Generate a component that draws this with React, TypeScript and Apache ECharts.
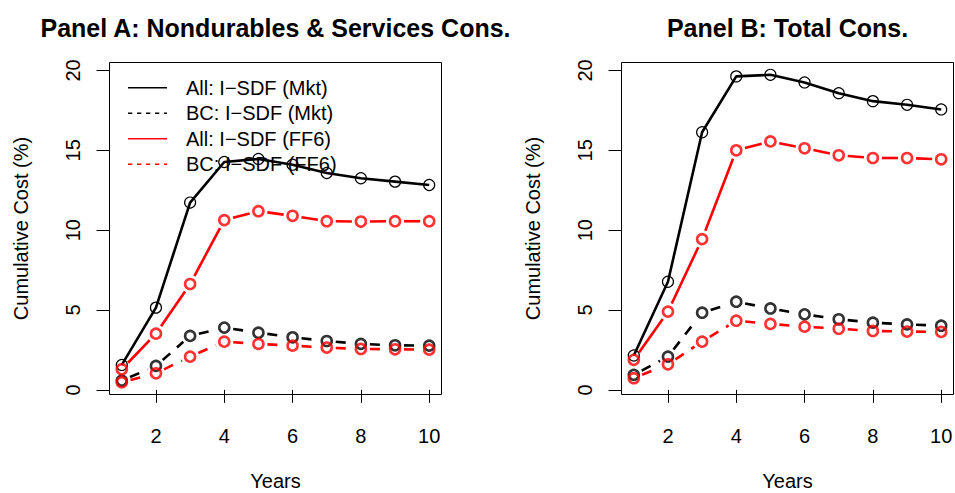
import React, { useEffect, useRef } from "react";
import * as echarts from "echarts";

// Horizon (years) and axis ticks
const years = [1, 2, 3, 4, 5, 6, 7, 8, 9, 10];
const xTicks = [2, 4, 6, 8, 10];
const yTicks = [0, 5, 10, 15, 20];

const panelTitles = ["Panel A: Nondurables & Services Cons.", "Panel B: Total Cons."];
const seriesNames = [
  "All: I\u2212SDF (Mkt)",
  "BC: I\u2212SDF (Mkt)",
  "All: I\u2212SDF (FF6)",
  "BC: I\u2212SDF (FF6)",
];

// Panel A: nondurables & services consumption, cumulative cost (%)
const ndsAllMkt = [1.56, 5.15, 11.73, 14.27, 14.46, 14.1, 13.58, 13.25, 13.04, 12.83];
const ndsBcMkt = [0.58, 1.5, 3.38, 3.9, 3.58, 3.29, 3.06, 2.88, 2.79, 2.77];
const ndsAllFF6 = [1.29, 3.52, 6.63, 10.63, 11.19, 10.9, 10.56, 10.54, 10.56, 10.56];
const ndsBcFF6 = [0.48, 1.04, 2.08, 3.02, 2.88, 2.77, 2.65, 2.56, 2.54, 2.52];

// Panel B: total consumption, cumulative cost (%)
const totAllMkt = [2.15, 6.77, 16.13, 19.63, 19.73, 19.25, 18.58, 18.08, 17.85, 17.56];
const totBcMkt = [0.94, 2.08, 4.83, 5.52, 5.1, 4.73, 4.42, 4.21, 4.1, 4.02];
const totAllFF6 = [1.88, 4.9, 9.44, 15.0, 15.56, 15.13, 14.69, 14.52, 14.52, 14.44];
const totBcFF6 = [0.73, 1.6, 3.02, 4.33, 4.13, 3.96, 3.83, 3.69, 3.65, 3.63];

const panelData = [
  [ndsAllMkt, ndsBcMkt, ndsAllFF6, ndsBcFF6],
  [totAllMkt, totBcMkt, totAllFF6, totBcFF6],
];

const FONT = "'Liberation Sans', Arial, Helvetica, sans-serif";
const RED = "#ff0000";
const BLACK = "#000000";
const DASH = [10, 9];

// Per-series drawing style: "o" = line through points, "b" = line broken at points
const seriesStyles = [
  { color: BLACK, dash: null as number[] | null, kind: "o", legendDash: null as number[] | null },
  { color: BLACK, dash: DASH, kind: "b", legendDash: [4.3, 4.7] },
  { color: RED, dash: null, kind: "b", legendDash: null },
  { color: RED, dash: DASH, kind: "b", legendDash: [4.3, 4.7] },
];

const grids = [
  { left: 109.5, top: 62.5, width: 332, height: 332 },
  { left: 621.5, top: 62.5, width: 332, height: 332 },
];

const GAP = 9; // gap around points for broken lines

function extendRange(lo: number, hi: number) {
  const d = (hi - lo) * 0.04;
  return [lo - d, hi + d];
}

function buildOption() {
  const allVals = panelData.flat(2);
  const [yMin, yMax] = extendRange(Math.min(...allVals), Math.max(...allVals));
  const [xMin, xMax] = extendRange(Math.min(...years), Math.max(...years));

  const textBase = { color: "#000", fontFamily: FONT, fontSize: 20 };

  const xAxis = grids.map((_, i) => ({
    gridIndex: i,
    type: "value",
    min: xMin,
    max: xMax,
    axisLine: { show: false },
    splitLine: { show: false },
    axisTick: { show: true, customValues: xTicks, length: 13, lineStyle: { color: "#000", width: 1 } },
    axisLabel: { customValues: xTicks, margin: 31, ...textBase },
    name: "Years",
    nameLocation: "middle",
    nameGap: 76,
    nameTextStyle: { ...textBase },
  }));

  const yAxis = grids.map((_, i) => ({
    gridIndex: i,
    type: "value",
    min: yMin,
    max: yMax,
    axisLine: { show: false },
    splitLine: { show: false },
    axisTick: { show: true, customValues: yTicks, length: 13, lineStyle: { color: "#000", width: 1 } },
    axisLabel: { customValues: yTicks, margin: 27, rotate: 90, ...textBase },
    name: "Cumulative Cost (%)",
    nameLocation: "middle",
    nameRotate: 90,
    nameGap: 79,
    nameTextStyle: { ...textBase },
  }));

  const series: any[] = [];
  panelData.forEach((panel, p) => {
    panel.forEach((vals, s) => {
      const st = seriesStyles[s];
      const pts = years.map((x, i) => [x, vals[i]]);
      if (st.kind === "o") {
        series.push({
          name: seriesNames[s],
          type: "line",
          xAxisIndex: p,
          yAxisIndex: p,
          data: pts,
          symbol: "circle",
          symbolSize: 11,
          showAllSymbol: true,
          itemStyle: { color: "rgba(0,0,0,0)", borderColor: st.color, borderWidth: 1.2 },
          lineStyle: { color: st.color, width: 2.6, type: "solid" },
          silent: true,
          z: 2 + s,
        });
      } else {
        const segs = years.slice(1).map((x, i) => [years[i], vals[i], x, vals[i + 1]]);
        series.push({
          name: seriesNames[s],
          type: "custom",
          xAxisIndex: p,
          yAxisIndex: p,
          data: segs,
          encode: { x: [0, 2], y: [1, 3] },
          silent: true,
          z: 2 + s,
          renderItem: (_params: any, api: any) => {
            const a = api.coord([api.value(0), api.value(1)]);
            const b = api.coord([api.value(2), api.value(3)]);
            const dx = b[0] - a[0];
            const dy = b[1] - a[1];
            const len = Math.hypot(dx, dy);
            if (len <= 2 * GAP) return null;
            const ux = dx / len;
            const uy = dy / len;
            return {
              type: "line",
              shape: {
                x1: a[0] + ux * GAP,
                y1: a[1] + uy * GAP,
                x2: b[0] - ux * GAP,
                y2: b[1] - uy * GAP,
              },
              style: {
                stroke: st.color,
                lineWidth: 2.6,
                lineDash: st.dash || undefined,
                lineCap: "butt",
                fill: null,
              },
            };
          },
        });
        series.push({
          name: seriesNames[s],
          type: "scatter",
          xAxisIndex: p,
          yAxisIndex: p,
          data: pts,
          symbol: "circle",
          symbolSize: 10,
          itemStyle: { color: "rgba(0,0,0,0)", borderColor: st.color, borderWidth: 2.6 },
          silent: true,
          z: 2 + s,
        });
      }
    });
  });

  // Panel titles
  const graphics: any[] = panelTitles.map((t, i) => ({
    type: "text",
    x: grids[i].left + grids[i].width / 2,
    y: 28,
    z: 10,
    style: {
      text: t,
      fill: "#000",
      fontFamily: FONT,
      fontSize: 25,
      fontWeight: "bold",
      align: "center",
      verticalAlign: "middle",
    },
  }));

  // Legend inside panel A (no frame)
  const lgX0 = grids[0].left + 18.5;
  const lgX1 = lgX0 + 39;
  const lgTextX = grids[0].left + 76.5;
  const lgY0 = 87.7;
  const lgStep = 25.5;
  seriesNames.forEach((name, s) => {
    const st = seriesStyles[s];
    const y = lgY0 + s * lgStep;
    graphics.push({
      type: "line",
      z: 10,
      shape: { x1: lgX0, y1: y, x2: lgX1, y2: y },
      style: { stroke: st.color, lineWidth: 1.4, lineDash: st.legendDash || undefined, fill: null },
    });
    graphics.push({
      type: "text",
      x: lgTextX,
      y,
      z: 10,
      style: {
        text: name,
        fill: "#000",
        fontFamily: FONT,
        fontSize: 20,
        align: "left",
        verticalAlign: "middle",
      },
    });
  });

  return {
    animation: false,
    backgroundColor: "#ffffff",
    grid: grids.map((g) => ({
      ...g,
      show: true,
      borderColor: "#000",
      borderWidth: 1,
      backgroundColor: "transparent",
      outerBoundsMode: "none",
    })),
    xAxis,
    yAxis,
    series,
    graphic: graphics,
  };
}

export default function App() {
  const ref = useRef<HTMLDivElement>(null);
  useEffect(() => {
    if (!ref.current) return;
    const chart = echarts.init(ref.current, null, { renderer: "svg" });
    chart.setOption(buildOption() as any);
    return () => chart.dispose();
  }, []);
  return (
    <div
      ref={ref}
      style={{ position: "absolute", left: 0, top: 0, width: 955, height: 493, background: "#fff" }}
    />
  );
}
